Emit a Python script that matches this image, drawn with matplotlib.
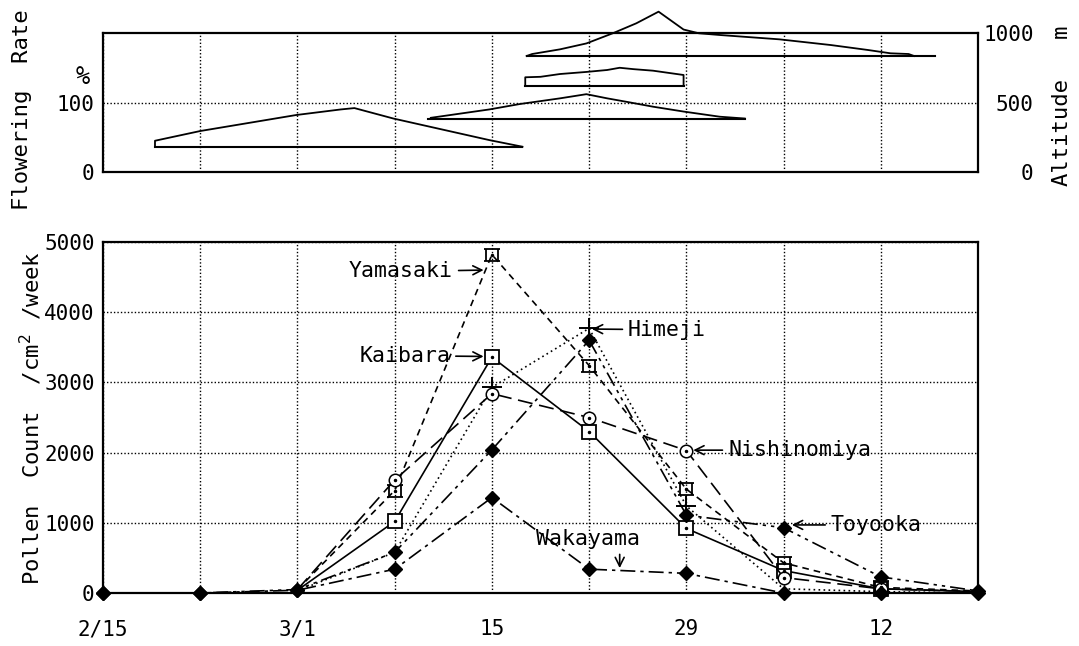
import numpy as np
import matplotlib
matplotlib.use("Agg")
import matplotlib.pyplot as plt
from matplotlib.path import Path

plt.rcParams['font.family'] = ['DejaVu Sans Mono']

# ---------------- data ----------------
week_days = [0, 7, 14, 21, 28, 35, 42, 49, 56, 63]          # 2/15 ... 4/19
week_labels = ['2/15', '', '3/1', '', '15', '', '29', '', '12', '']

nan = np.nan
yamasaki    = [nan, nan, 50, 1460, 4820, 3240, 1480, 430, 80, 30]
kaibara     = [nan, nan, 40, 1020, 3360, 2300, 920, 320, 60, 20]
himeji      = [nan, nan, 30, 580, 2930, 3770, 1240, 60, 20, 0]
nishinomiya = [nan, nan, 50, 1610, 2840, 2500, 2030, 220, 60, 20]
toyooka     = [0, 0, 50, 580, 2040, 3600, 1110, 930, 230, 30]
wakayama    = [0, 0, 40, 340, 1360, 340, 280, 0, 0, 0]

# flowering-rate profiles (upper panel), in left-axis units (0-200)
s1_base = 36.4
s1_span = [3.74, 30.2]
s1_x = [3.74, 3.74, 7.0, 13.9, 17.1, 18.1, 20.9, 27.8, 30.2]
s1_y = [36.4, 45, 59, 82, 90, 92, 77, 46, 36.4]

s2_base = 77
s2_span = [23.4, 46.2]
s2_x = [23.6, 25.0, 27.8, 30.0, 32.9, 34.8, 36.3, 37.7, 39.6, 41.8, 44.4, 46.2]
s2_y = [78, 82, 90, 97.8, 106, 112, 106, 101, 94, 87, 79.6, 77]

s3_base = 123.7
s3_span = [30.4, 41.8]
s3_x = [30.4, 30.4, 31.5, 32.9, 34.8, 36.3, 37.2, 38.2, 39.6, 41.8, 41.8]
s3_y = [123.7, 136.3, 137, 141, 144, 146.8, 150, 148, 145.8, 139.6, 123.7]

s4_base = 166.9
s4_span = [30.5, 59.9]
s4_x = [30.5, 30.9, 32.9, 34.8, 36.7, 38.4, 40.0, 41.8, 42.9, 44.5, 48.7, 52.4, 55.1, 56.7, 58.0, 58.4]
s4_y = [166.9, 169.8, 176.5, 185, 199.6, 214, 230.7, 205, 199.6, 197, 190.9, 182.7, 175.5, 170.8, 169.8, 166.9]

# ---------------- figure ----------------
fig = plt.figure(figsize=(10.79, 6.46), dpi=100)
ax1 = fig.add_axes([0.0955, 0.7337, 0.8109, 0.2152])
ax2 = fig.add_axes([0.0955, 0.0820, 0.8109, 0.5434])

FS = 15
grid_kw = dict(color='black', linestyle=(0, (1, 1.5)), linewidth=1.0)

# ---------------- upper panel ----------------
ax1.set_xlim(0, 63)
ax1.set_ylim(0, 200)
ax1.set_xticks(week_days)
ax1.set_xticklabels([])
ax1.set_yticks([0, 100])
ax1.set_yticklabels(['0', '100'], fontsize=FS)
ax1.tick_params(length=0, pad=6)
ax1.grid(True, axis='x', **grid_kw)
ax1.axhline(100, **grid_kw)
for sp in ax1.spines.values():
    sp.set_linewidth(1.6)

ax1r = ax1.twinx()
ax1r.set_ylim(0, 1000)
ax1r.set_yticks([0, 500, 1000])
ax1r.set_yticklabels(['0', '500', '1000'], fontsize=FS)
ax1r.tick_params(length=0, pad=40)
for lbl in ax1r.get_yticklabels():
    lbl.set_horizontalalignment('right')
for sp in ax1r.spines.values():
    sp.set_visible(False)

for base, span, xs, ys in [(s1_base, s1_span, s1_x, s1_y),
                           (s2_base, s2_span, s2_x, s2_y),
                           (s3_base, s3_span, s3_x, s3_y),
                           (s4_base, s4_span, s4_x, s4_y)]:
    ax1.plot(span, [base, base], color='black', lw=1.5, clip_on=False)
    ax1.plot(xs, ys, color='black', lw=1.3, clip_on=False)

fig.text(83 / 1079, 1 - 77 / 646, '%', fontsize=17, ha='center', va='center')
fig.text(22 / 1079, 1 - 110 / 646, 'Flowering  Rate', fontsize=16,
         rotation=90, ha='center', va='center')
fig.text(1062 / 1079, 1 - 106 / 646, 'Altitude   m', fontsize=16,
         rotation=90, ha='center', va='center')

# ---------------- lower panel ----------------
ax2.set_xlim(0, 63)
ax2.set_ylim(0, 5000)
ax2.set_xticks(week_days)
ax2.set_xticklabels(week_labels, fontsize=FS)
ax2.set_yticks([0, 1000, 2000, 3000, 4000, 5000])
ax2.set_yticklabels(['0', '1000', '2000', '3000', '4000', '5000'], fontsize=FS)
ax2.tick_params(axis='x', length=0, pad=19)
ax2.tick_params(axis='y', length=0, pad=6)
ax2.grid(True, **grid_kw)
for sp in ax2.spines.values():
    sp.set_linewidth(1.6)

# custom Yamasaki marker: box with extended top/bottom bars
ym_verts = [(-1.5, 1), (1.5, 1), (-1.5, -1), (1.5, -1),
            (-1, 1), (-1, -1), (1, 1), (1, -1)]
ym_codes = [Path.MOVETO, Path.LINETO] * 4
yam_marker = Path(ym_verts, ym_codes)

mk_idx = [3, 4, 5, 6, 7, 8]
lw = 1.2
ax2.plot(week_days, kaibara, color='black', lw=lw, linestyle='-',
         marker='s', ms=10, mfc='white', mec='black', mew=1.3, markevery=mk_idx,
         clip_on=False, zorder=3)
ax2.plot(week_days, yamasaki, color='black', lw=lw, linestyle=(0, (4, 3)),
         marker=yam_marker, ms=12, mfc='none', mec='black', mew=1.3, markevery=mk_idx,
         clip_on=False, zorder=3)
ax2.plot(week_days, himeji, color='black', lw=lw, linestyle=(0, (1, 2)),
         marker='+', ms=14, mec='black', mew=1.4, markevery=[4, 5, 6],
         clip_on=False, zorder=3)
ax2.plot(week_days, nishinomiya, color='black', lw=lw, linestyle=(0, (9, 4)),
         marker='o', ms=9, mfc='white', mec='black', mew=1.1, markevery=mk_idx,
         clip_on=False, zorder=3)
ax2.plot(week_days, toyooka, color='black', lw=lw, linestyle=(0, (9, 3, 2, 3, 2, 3)),
         marker='D', ms=7, mfc='black', mec='black', clip_on=False, zorder=3)
ax2.plot(week_days, wakayama, color='black', lw=lw, linestyle=(0, (9, 3, 2, 3)),
         marker='D', ms=7, mfc='black', mec='black', clip_on=False, zorder=3)
for series in (kaibara, yamasaki, nishinomiya):
    ax2.plot(week_days, series, linestyle='none', marker='.', ms=3,
             color='black', markevery=mk_idx, clip_on=False, zorder=4)

ax2.set_ylabel('Pollen  Count  /cm$^2$ /week', fontsize=16, labelpad=4)
ax2.yaxis.set_label_coords(-0.068, 0.5)

arrow = dict(arrowstyle='->', color='black', lw=1.2, mutation_scale=16,
             shrinkA=2, shrinkB=0)
AFS = 15.5
ax2.annotate('Yamasaki', xy=(27.4, 4600), xytext=(25.2, 4580), fontsize=AFS,
             ha='right', va='center', arrowprops=arrow)
ax2.annotate('Kaibara', xy=(27.4, 3370), xytext=(25.0, 3380), fontsize=AFS,
             ha='right', va='center', arrowprops=arrow)
ax2.annotate('Himeji', xy=(35.2, 3760), xytext=(37.8, 3750), fontsize=AFS,
             ha='left', va='center', arrowprops=arrow)
ax2.annotate('Nishinomiya', xy=(42.5, 2035), xytext=(45.0, 2035), fontsize=AFS,
             ha='left', va='center', arrowprops=arrow)
ax2.annotate('Toyooka', xy=(49.6, 970), xytext=(52.4, 970), fontsize=AFS,
             ha='left', va='center', arrowprops=arrow)
ax2.text(34.9, 775, 'Wakayama', fontsize=AFS, ha='center', va='center')
ax2.annotate('', xy=(37.2, 355), xytext=(37.2, 590), arrowprops=arrow)

fig.savefig('out.png', dpi=100)
